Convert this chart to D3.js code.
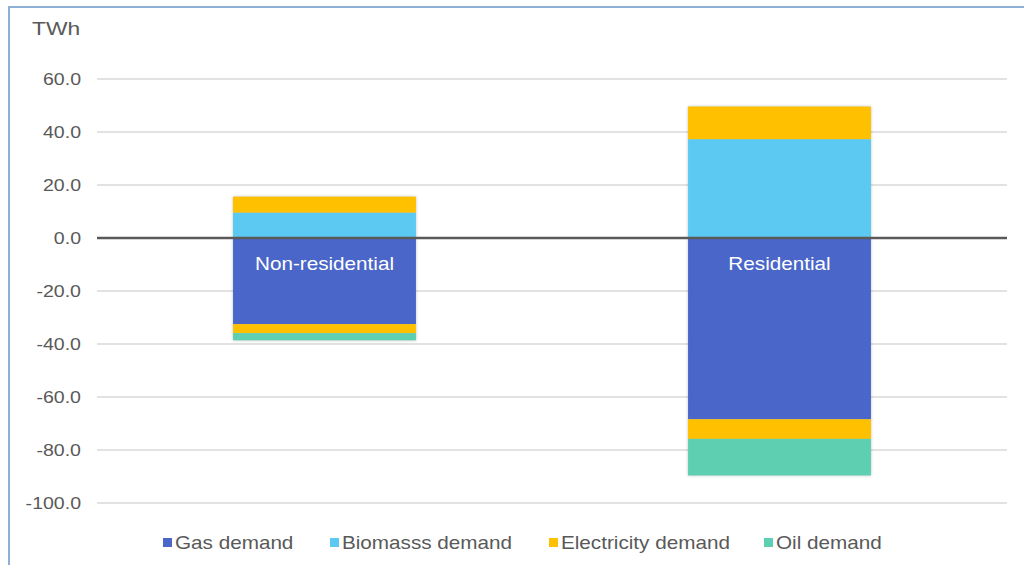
<!DOCTYPE html>
<html><head><meta charset="utf-8">
<script src="https://cdn.jsdelivr.net/npm/d3@7"></script>
<style>
html,body{margin:0;padding:0;background:#fff;overflow:hidden;}
svg{display:block;font-family:"Liberation Sans",Arial,sans-serif;}
</style></head>
<body><svg id="c" width="1024" height="565"></svg>
<script>
const categories = ["Non-residential", "Residential"];
const seriesKeys = ["gas", "biomass", "elecUp", "elecDown", "oil"];
const gasDemand = [-32.5, -68.4];
const biomassDemand = [9.6, 37.3];
const electricityIncrease = [6.0, 12.3];
const electricityDecrease = [-3.4, -7.4];
const oilDemand = [-2.7, -13.8];
const yTicks = [-100, -80, -60, -40, -20, 0, 20, 40, 60];
const legendLabels = ["Gas demand", "Biomasss demand", "Electricity demand", "Oil demand"];
const colors = {gas:"#4A66C8", biomass:"#5BC9F1", elecUp:"#FFC000", elecDown:"#FFC000", oil:"#5ECFB1"};
const legendColors = ["#4A66C8", "#5BC9F1", "#FFC000", "#5ECFB1"];

const rows = categories.map((c,i)=>({cat:c, gas:gasDemand[i], biomass:biomassDemand[i],
  elecUp:electricityIncrease[i], elecDown:electricityDecrease[i], oil:oilDemand[i]}));

const SX = 1.15; // horizontal stretch of the reference's text
const svg = d3.select("#c");
const L = 97, R = 1007;
const y = d3.scaleLinear().domain([-100, 60]).range([503, 79]);
const x = d3.scaleBand().domain(categories).range([L, R]).paddingInner(0.598).paddingOuter(0.299);

// border
svg.append("path").attr("d","M9,570 L9,7 L1030,7").attr("fill","none").attr("stroke","#8EAFD6").attr("stroke-width",2);

// grid
svg.append("g").selectAll("line").data(yTicks.filter(d=>d!==0)).join("line")
  .attr("x1",L).attr("x2",R).attr("y1",d=>y(d)).attr("y2",d=>y(d))
  .attr("stroke","#D9D9D9").attr("stroke-width",1.5);

// y axis labels
const fmt = d3.format(".1f");
const yAxis = d3.axisLeft(y).tickValues(yTicks).tickFormat(d=>fmt(d).replace("\u2212","-")).tickSize(0).tickPadding(0);
const ga = svg.append("g").attr("transform",`translate(${81},0)`).call(yAxis);
ga.select(".domain").remove();
ga.selectAll(".tick text").attr("fill","#595959").style("font-size","17px")
  .style("font-family","'Liberation Sans',Arial,sans-serif").attr("x",0)
  .attr("text-anchor","end").attr("transform",`scale(${SX},1)`);

svg.append("g").attr("transform","translate(32,35) scale(1.2,1)")
  .append("text").text("TWh").attr("fill","#595959").style("font-size","19px");

// stacks
const stack = d3.stack().keys(seriesKeys).offset(d3.stackOffsetDiverging);
const stacked = stack(rows);
const bars = svg.append("g").style("filter","drop-shadow(0px 0px 1.5px rgba(0,0,0,0.25))");
stacked.forEach(s=>{
  bars.selectAll(null).data(s).join("rect")
    .attr("x",d=>x(d.data.cat)).attr("width",x.bandwidth())
    .attr("y",d=>y(Math.max(d[0],d[1]))).attr("height",d=>Math.abs(y(d[0])-y(d[1])))
    .attr("fill",colors[s.key]);
});

// zero line
svg.append("line").attr("x1",L).attr("x2",R).attr("y1",y(0)).attr("y2",y(0))
  .attr("stroke","#595959").attr("stroke-width",2.5);

// category labels
svg.append("g").selectAll("g").data(categories).join("g")
  .attr("transform",d=>`translate(${x(d)+x.bandwidth()/2},${y(0)+32}) scale(${SX},1)`)
  .append("text").attr("text-anchor","middle")
  .attr("fill","#fff").style("font-size","18px").text(d=>d);

// legend
const lx = [163, 330, 549, 764];
const lg = svg.append("g").selectAll("g").data(legendLabels).join("g")
  .attr("transform",(d,i)=>`translate(${lx[i]},543)`);
lg.append("rect").attr("x",0).attr("y",-5).attr("width",9).attr("height",9).attr("fill",(d,i)=>legendColors[i]);
lg.append("text").attr("x",12/SX).attr("y",6).attr("transform",`scale(${SX},1)`)
  .attr("fill","#595959").style("font-size","18px").text(d=>d);
</script></body></html>
